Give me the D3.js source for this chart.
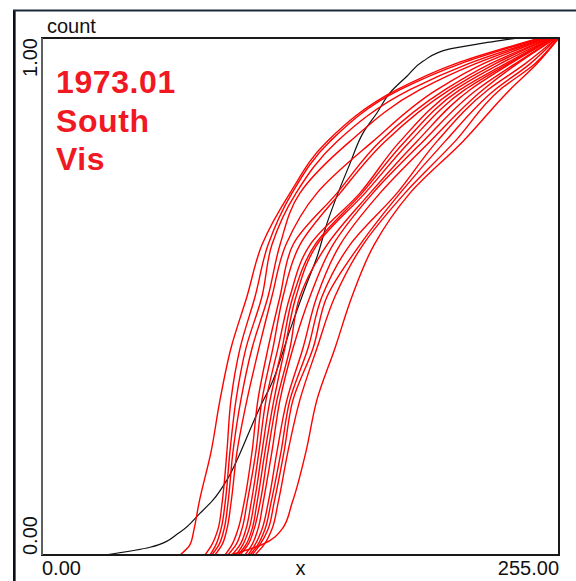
<!DOCTYPE html>
<html>
<head>
<meta charset="utf-8">
<script src="https://cdn.jsdelivr.net/npm/d3@7"></script>
<style>
  body { margin: 0; background: #fff; }
  svg { display: block; }
  text { font-family: "Liberation Sans", Arial, sans-serif; }
</style>
</head>
<body>
<svg id="chart" width="576" height="581"></svg>
<script>
// cumulative levels shared by all red curves
var levels = [0, 0.02, 0.05, 0.1, 0.2, 0.3, 0.4, 0.5, 0.6, 0.7, 0.8, 0.9, 0.95, 1];

// x value of each red curve at every level above
var redCurves = [
  [68.1, 73.0, 75.0, 77.4, 83.4, 87.8, 93.2, 101.1, 108.5, 122.3, 140.6, 175.1, 203.7, 245.6],
  [80.4, 83.8, 86.8, 88.8, 91.2, 93.2, 97.7, 105.1, 111.5, 123.3, 142.0, 176.6, 206.2, 246.6],
  [82.9, 85.8, 88.3, 90.3, 92.7, 95.7, 100.6, 108.5, 113.4, 125.3, 145.5, 181.5, 210.1, 248.1],
  [83.8, 87.3, 89.8, 91.7, 94.2, 98.1, 103.6, 111.5, 117.4, 127.2, 151.9, 186.4, 213.6, 248.6],
  [85.3, 88.8, 91.2, 93.2, 96.2, 101.1, 107.0, 113.4, 120.3, 135.6, 163.2, 194.8, 217.5, 249.6],
  [90.3, 93.7, 96.7, 99.6, 103.6, 106.5, 111.5, 117.4, 123.8, 145.5, 166.7, 198.8, 221.0, 250.5],
  [91.7, 95.7, 98.6, 101.1, 105.5, 108.5, 113.9, 118.9, 127.2, 147.0, 169.2, 201.2, 223.4, 250.5],
  [93.7, 97.7, 100.6, 103.1, 107.0, 110.5, 116.4, 122.3, 132.2, 156.8, 176.6, 203.7, 225.9, 251.5],
  [95.7, 99.1, 102.1, 104.6, 108.5, 112.5, 118.4, 123.8, 134.6, 157.8, 179.0, 206.2, 228.4, 251.5],
  [96.7, 100.6, 103.6, 106.0, 110.0, 114.4, 119.8, 125.3, 135.6, 159.3, 181.5, 208.6, 229.8, 252.0],
  [97.7, 101.6, 104.6, 107.5, 111.5, 115.9, 122.3, 127.2, 140.6, 161.8, 184.9, 211.1, 230.8, 252.5],
  [100.1, 103.6, 106.5, 109.0, 113.4, 117.4, 123.8, 132.2, 143.5, 163.2, 187.9, 214.5, 233.3, 253.0],
  [101.6, 105.1, 108.5, 111.5, 115.9, 120.8, 128.7, 135.6, 147.0, 166.7, 191.4, 217.5, 234.3, 253.5],
  [102.6, 106.5, 110.0, 112.9, 117.9, 122.3, 131.2, 138.1, 151.9, 175.1, 194.8, 220.0, 238.2, 254.0],
  [103.6, 107.5, 111.5, 114.4, 119.4, 123.8, 133.7, 140.6, 156.8, 176.6, 198.8, 223.4, 240.7, 254.0],
  [105.1, 109.5, 113.4, 116.4, 121.3, 127.2, 135.6, 144.5, 158.3, 179.0, 203.7, 225.9, 243.1, 254.5],
  [92.7, 108.5, 118.4, 123.3, 130.2, 135.6, 144.5, 152.9, 163.8, 181.5, 207.6, 230.8, 244.1, 255.0]
];

// reference (black) curve, x and count
var refX = [31, 53.3, 68, 78, 84.3, 91.2, 97.7, 104, 108.5, 112.5, 122.3, 130.7, 135.6, 140.6, 146, 152, 158.3, 165.2, 171.6, 180, 187.9, 201.2, 217.5, 227.4, 235.7];
var refY = [0, 0.015, 0.044, 0.081, 0.106, 0.145, 0.197, 0.255, 0.294, 0.325, 0.435, 0.526, 0.576, 0.642, 0.700, 0.758, 0.816, 0.855, 0.894, 0.926, 0.955, 0.979, 0.990, 0.996, 1.0];

var xTicks = [0, 255];
var xTickLabels = ["0.00", "255.00"];
var yTicks = [0, 1];
var yTickLabels = ["0.00", "1.00"];
var titleLines = ["1973.01", "South", "Vis"];

var svg = d3.select("#chart");
var plotL = 42, plotT = 38, plotR = 559, plotB = 555;

var x = d3.scaleLinear().domain([0, 255]).range([plotL, plotR]);
var y = d3.scaleLinear().domain([0, 1]).range([plotB, plotT]);

// window frame
svg.append("line").attr("x1", 14).attr("x2", 14).attr("y1", 10).attr("y2", 581)
  .attr("stroke", "#0a0f1a").attr("stroke-width", 2);
svg.append("line").attr("x1", 15.5).attr("x2", 15.5).attr("y1", 11).attr("y2", 581)
  .attr("stroke", "#4a6a9a").attr("stroke-width", 1);
svg.append("line").attr("x1", 13).attr("x2", 576).attr("y1", 10.5).attr("y2", 10.5)
  .attr("stroke", "#1c2836").attr("stroke-width", 2);

svg.append("defs").append("clipPath").attr("id", "plot")
  .append("rect").attr("x", plotL).attr("y", plotT - 1)
  .attr("width", plotR - plotL).attr("height", plotB - plotT + 1);

var lineGen = d3.line()
  .x(function(d) { return x(d[0]); })
  .y(function(d) { return y(d[1]); })
  .curve(d3.curveMonotoneY);

var g = svg.append("g").attr("clip-path", "url(#plot)");

g.append("path")
  .datum(refX.map(function(v, i) { return [v, refY[i]]; }))
  .attr("d", lineGen)
  .attr("fill", "none")
  .attr("stroke", "#111")
  .attr("stroke-width", 1.2);

g.selectAll(".red")
  .data(redCurves)
  .enter().append("path")
  .attr("class", "red")
  .attr("d", function(c) { return lineGen(c.map(function(v, i) { return [v, levels[i]]; })); })
  .attr("fill", "none")
  .attr("stroke", "#ff0000")
  .attr("stroke-width", 1.4);

// plot frame
svg.append("rect").attr("x", plotL).attr("y", plotT)
  .attr("width", plotR - plotL).attr("height", plotB - plotT)
  .attr("fill", "none").attr("stroke", "#1a1a1a").attr("stroke-width", 2);
svg.append("line").attr("x1", plotL).attr("x2", plotL).attr("y1", plotT).attr("y2", plotB)
  .attr("stroke", "#606060").attr("stroke-width", 2);

// title in red
svg.selectAll(".title")
  .data(titleLines)
  .enter().append("text")
  .attr("x", 56)
  .attr("y", function(d, i) { return 93 + i * 38.5; })
  .attr("font-size", 32)
  .attr("font-weight", "bold")
  .attr("letter-spacing", 0.6)
  .attr("fill", "#f01822")
  .text(function(d) { return d; });

// axis texts
svg.append("text").attr("x", 47).attr("y", 33).attr("font-size", 20)
  .attr("fill", "#111").text("count");
svg.append("text").attr("x", x(127.5)).attr("y", 575).attr("font-size", 20)
  .attr("text-anchor", "middle").attr("fill", "#111").text("x");

svg.selectAll(".xt")
  .data(xTicks)
  .enter().append("text")
  .attr("x", function(d) { return x(d); })
  .attr("y", 575)
  .attr("font-size", 20)
  .attr("fill", "#111")
  .attr("text-anchor", function(d, i) { return i === 0 ? "start" : "end"; })
  .text(function(d, i) { return xTickLabels[i]; });

svg.selectAll(".yt")
  .data(yTicks)
  .enter().append("text")
  .attr("transform", function(d) { return "translate(37," + y(d) + ") rotate(-90)"; })
  .attr("font-size", 20)
  .attr("fill", "#111")
  .attr("text-anchor", function(d, i) { return i === 0 ? "start" : "end"; })
  .text(function(d, i) { return yTickLabels[i]; });
</script>
</body>
</html>
